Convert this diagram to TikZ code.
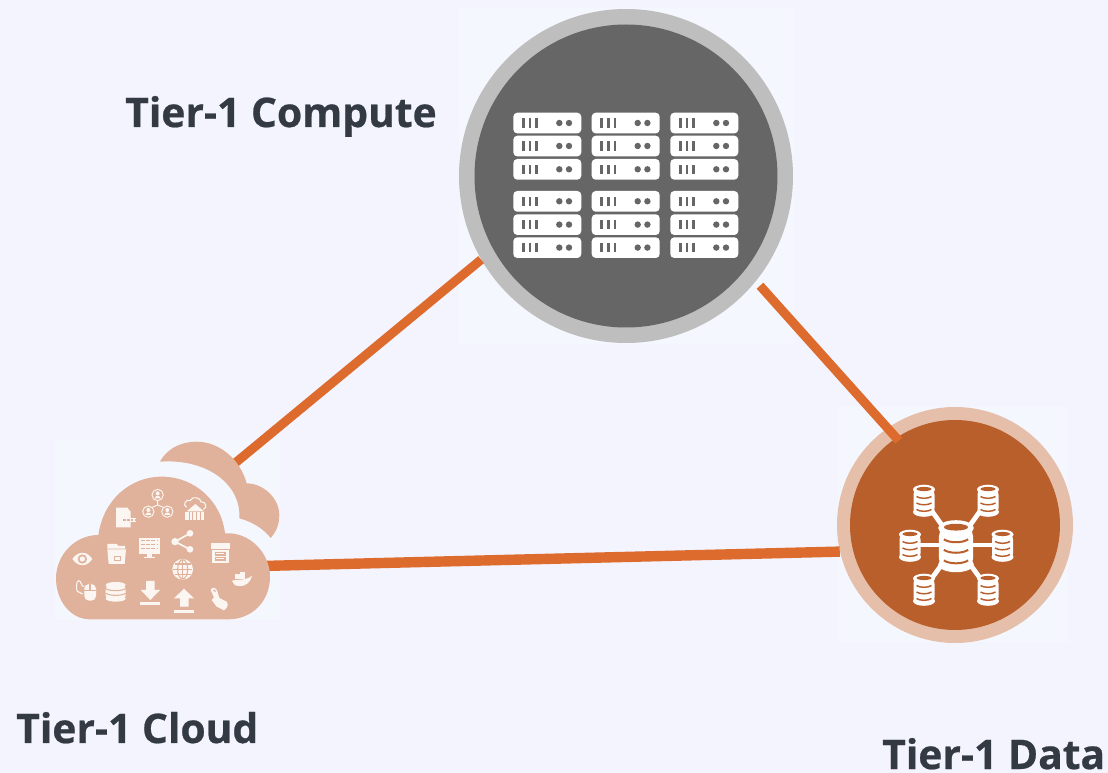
\documentclass[tikz,border=0pt]{standalone}
\usepackage{fontspec}
\setmainfont{Open Sans}[BoldFeatures={FakeBold=0.55}]
\definecolor{bgc}{HTML}{F3F4FE}
\definecolor{patch}{HTML}{F5F7FE}
\definecolor{ringgrey}{HTML}{BEBEBE}
\definecolor{coregrey}{HTML}{666666}
\definecolor{ringor}{HTML}{E5BFAA}
\definecolor{coreor}{HTML}{B95F2C}
\definecolor{linkor}{HTML}{DE6B2E}
\definecolor{cloudc}{HTML}{E0B29B}
\definecolor{iconw}{HTML}{FCF6F2}
\definecolor{labelc}{HTML}{343A44}
\tikzset{
  lab/.style={font=\bfseries\fontsize{30.6pt}{34pt}\selectfont,text=labelc,inner sep=0pt,anchor=base west},
  disc/.style={circle,inner sep=0pt,minimum size=#1*0.75pt},
  link/.style={draw=linkor,line width=6.8pt},
  ic/.style={fill=iconw,draw=none},
  cut/.style={fill=cloudc,draw=none},
  icl/.style={draw=iconw,line width=1.2pt},
  cutl/.style={draw=cloudc,line width=.8pt},
}
% server unit: top-left corner in px
\newcommand{\srvunit}[2]{%
  \begin{scope}[shift={(#1,#2)}]
    \fill[white,rounded corners=3pt] (0,0) rectangle (68,20.7);
    \foreach \bx in {10,16.7,23.3}
      {\fill[coregrey] (\bx-1.4,5.7) rectangle (\bx+1.4,15);}
    \foreach \dx in {46,55.7}
      {\fill[coregrey] (\dx,10.3) circle[radius=3.2];}
  \end{scope}}
% database icon: centre, scale, slot width
\newcommand{\dbicon}[4]{%
  \begin{scope}[shift={(#1,#2)},x=#3*0.75pt,y=#3*-0.75pt]
    \fill[white,rounded corners=5pt*#3] (-10.5,-12) rectangle (10.5,15);
    \fill[white] (0,-10.5) ellipse[x radius=11,y radius=4.8];
    \fill[white] (0,12) ellipse[x radius=11,y radius=4.8];
    \fill[coreor] (0,-11) ellipse[x radius=7.5,y radius=2.1];
    \foreach \yy in {-3.5,3,9.5}
      {\draw[coreor,line width=#4] (-7.5,\yy) .. controls (-4,\yy+2.4) and (4,\yy+2.4) .. (7.5,\yy);}
  \end{scope}}
\begin{document}
\begin{tikzpicture}[x=0.75pt,y=-0.75pt]
\fill[bgc] (0,0) rectangle (1108,773);
\useasboundingbox (0,0) rectangle (1108,773);
\fill[patch] (459,8) rectangle (794,344);
\fill[patch] (55,440) rectangle (280,620);
\fill[patch] (838,407) rectangle (1068,642);

% rings
\node[disc=334,fill=ringgrey] (computering) at (626,176) {};
\node[disc=236,fill=ringor] (dataring) at (955,525) {};

% named connector ends on the cloud
\coordinate (cloudtop) at (234,464);
\coordinate (cloudright) at (262,566);

\node[disc=303,fill=coregrey] (computecore) at (626,176) {};
\node[disc=210,fill=coreor] (datacore) at (955,525) {};

\draw[link] (computering.210) -- (cloudtop);
\draw[link,shorten <=4.5pt,shorten >=-3pt] (computering.-39) -- (datacore.124);
\draw[link,line width=7.8pt] (cloudright) -- (dataring.193);

% servers
\foreach \cx in {513.3,591.7,670.3}{
  \foreach \ry in {112.7,135.7,159,191,214.3,237.3}{
    \srvunit{\cx}{\ry}
  }
}

% database hub
\begin{scope}
  \foreach \ex/\ey in {924/500,988/500,910/545,1002.5/545,924/589,988/589}
    {\draw[white,line width=3.6pt] (956,545) -- (\ex,\ey);}
\end{scope}
\dbicon{924}{500}{1}{1.1pt}
\dbicon{988}{500}{1}{1.1pt}
\dbicon{910}{545}{1}{1.1pt}
\dbicon{1002.5}{545}{1}{1.1pt}
\dbicon{924}{589}{1}{1.1pt}
\dbicon{988}{589}{1}{1.1pt}
\dbicon{956}{545}{1.62}{1.5pt}

% cloud, drawn in units of 1/3 px
\begin{scope}[shift={(40,430)},x=0.25pt,y=-0.25pt]
  \fill[cloudc] (150,568)
    .. controls (90,568) and (48,510) .. (48,445)
    .. controls (48,375) and (105,315) .. (175,315)
    .. controls (190,210) and (270,140) .. (365,140)
    .. controls (465,140) and (545,215) .. (555,310)
    .. controls (630,305) and (690,370) .. (690,440)
    .. controls (690,515) and (635,568) .. (565,568) -- cycle;
  \fill[cloudc] (360,95)
    .. controls (385,50) and (430,35) .. (470,35)
    .. controls (535,35) and (600,85) .. (620,160)
    .. controls (670,160) and (718,205) .. (718,255)
    .. controls (718,285) and (708,305) .. (692,324)
    .. controls (670,295) and (635,275) .. (598,265)
    .. controls (605,170) and (510,85) .. (360,95) -- cycle;
  % eye
  \fill[ic] (97,387) .. controls (115,362) and (140,362) .. (157,387) .. controls (140,412) and (115,412) .. (97,387) -- cycle;
  \fill[cut] (127,387) circle[radius=14];
  \fill[ic] (127,387) circle[radius=8];
  % mouse
  \fill[ic,rounded corners=3.5pt] (133,462) rectangle (168,512);
  \draw[cutl] (133,482) -- (168,482);
  \draw[cutl] (150,462) -- (150,482);
  \draw[icl,line width=.8pt] (133,470) .. controls (122,470) and (125,452) .. (116,452) .. controls (108,452) and (108,480) .. (112,484) -- (128,492);
  % database
  \fill[ic,rounded corners=3pt] (197,465) rectangle (257,508);
  \fill[ic] (227,465) ellipse[x radius=30,y radius=9];
  \fill[ic] (227,506) ellipse[x radius=30,y radius=9];
  \foreach \yy in {476,490}
    {\draw[cutl] (197,\yy) .. controls (210,\yy+8) and (244,\yy+8) .. (257,\yy);}
  % download
  \fill[ic] (318,453) -- (344,453) -- (344,480) -- (360,480) -- (331,510) -- (302,480) -- (318,480) -- cycle;
  \fill[ic] (300,517) rectangle (361,526);
  % upload
  \fill[ic] (420,530) -- (446,530) -- (446,505) -- (462,505) -- (432,476) -- (402,505) -- (420,505) -- cycle;
  \fill[ic] (402,540) rectangle (463,549);
  % hand
  \fill[ic] (512,480) .. controls (515,470) and (530,472) .. (532,484) -- (538,504) -- (560,515) .. controls (568,525) and (560,535) .. (552,541) -- (530,530) -- (515,510) -- (522,502) -- cycle;
  \draw[cutl] (520,482) .. controls (522,478) and (526,480) .. (526,486);
  % docker
  \fill[ic] (576,452) .. controls (590,448) and (620,452) .. (636,437) .. controls (632,455) and (620,470) .. (595,468) .. controls (585,468) and (578,460) .. (576,452) -- cycle;
  \fill[ic] (585,432) rectangle (600,448);
  \fill[ic] (601,427) rectangle (614,448);
  % globe
  \fill[ic] (428,418) circle[radius=31];
  \draw[cutl] (428,418) ellipse[x radius=15,y radius=29];
  \draw[cutl] (428,389) -- (428,447);
  \draw[cutl] (399,418) -- (457,418);
  \draw[cutl] (404,402) -- (452,402);
  \draw[cutl] (404,434) -- (452,434);
  % share
  \draw[icl,line width=1.3pt] (450,310) -- (405,335) -- (450,358);
  \fill[ic] (450,310) circle[radius=10];
  \fill[ic] (405,335) circle[radius=11];
  \fill[ic] (450,358) circle[radius=10];
  % monitor
  \fill[ic] (298,323) rectangle (360,372);
  \fill[ic] (322,372) rectangle (336,380);
  \fill[ic] (312,380) rectangle (346,385);
  \foreach \my in {332,344,356}
    {\draw[cutl,dash pattern=on 3pt off .8pt] (304,\my) -- (355,\my);}
  % folder
  \fill[ic] (202,342) -- (230,342) -- (235,348) -- (255,348) -- (255,356) -- (202,356) -- cycle;
  \fill[ic] (202,358) -- (258,358) -- (254,402) -- (206,402) -- cycle;
  \draw[cutl] (224,380) rectangle (242,392);
  % archive box
  \fill[ic] (512,339) rectangle (571,356);
  \fill[ic] (517,359) rectangle (566,400);
  \draw[cutl] (527,368) rectangle (555,375);
  \draw[cutl] (527,383) rectangle (555,390);
  % document
  \fill[ic] (228,233) -- (262,233) -- (272,245) -- (272,292) -- (228,292) -- cycle;
  \fill[ic] (250,265) rectangle (288,275);
  \draw[cutl,dash pattern=on 2pt off .8pt] (250,270) -- (288,270);
  % people
  \foreach \qx/\qy in {353/195,325/245,382/245}{
    \draw[icl,line width=.7pt] (\qx,\qy) circle[radius=17];
    \fill[ic] (\qx,\qy-5) circle[radius=6];
    \fill[ic] (\qx-9,\qy+10) .. controls (\qx-8,\qy) and (\qx+8,\qy) .. (\qx+9,\qy+10) -- cycle;
  }
  \draw[icl,line width=.7pt] (353,212) -- (353,225) -- (337,232);
  \draw[icl,line width=.7pt] (353,225) -- (370,232);
  % cloud house
  \draw[icl,line width=.8pt] (440,232) .. controls (425,225) and (440,205) .. (450,212) .. controls (458,195) and (485,205) .. (482,215) .. controls (500,215) and (502,235) .. (490,238);
  \fill[ic] (466,222) -- (492,244) -- (440,244) -- cycle;
  \fill[ic] (436,246) rectangle (492,270);
  \foreach \hx in {447,458,469,480}
    {\draw[cutl,line width=.5pt] (\hx,246) -- (\hx,270);}
\end{scope}

% labels
\node[lab] (computelabel) at (125,127) {Tier-1 Compute};
\node[lab] (cloudlabel) at (16,743) {Tier-1 Cloud};
\node[lab] (datalabel) at (882,769) {Tier-1 Data};
\end{tikzpicture}
\end{document}
